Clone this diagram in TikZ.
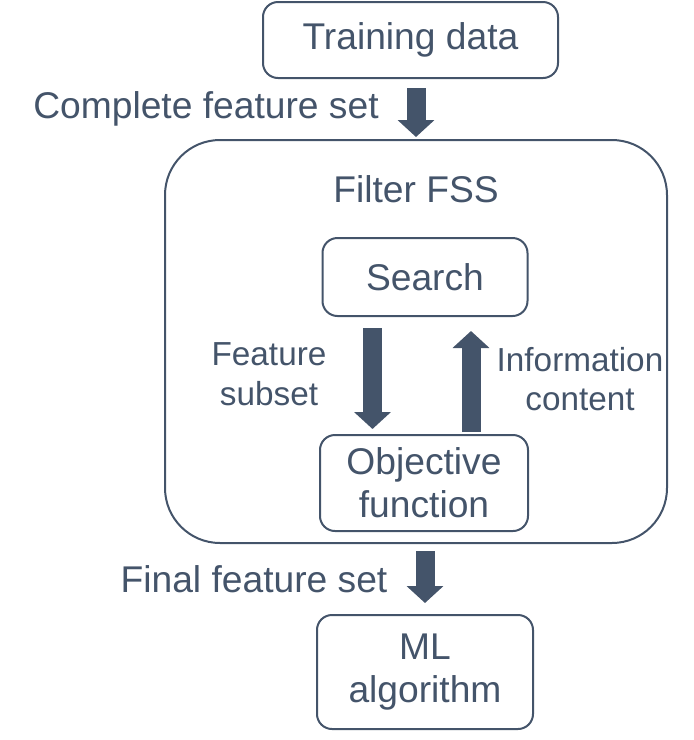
\documentclass[tikz,border=0pt]{standalone}
\usepackage{fontspec}
\setmainfont{Liberation Sans}
\usepackage{tikz}
\usetikzlibrary{arrows.meta}
\usetikzlibrary{positioning}
\definecolor{slate}{HTML}{44546A}
\tikzset{
  box/.style = {draw = slate, line width = 2pt, rounded corners = 15pt, inner sep = 0pt, align = center, text = slate},
  txt/.style = {text = slate, align = center, inner sep = 0pt},
  small/.style = {font = \fontsize{33.3}{39.5}\selectfont},
  fatarrow/.style = {draw = slate, line width = 19pt, -{Triangle[width = 36pt, length = 17pt]}}
}

\begin{document}
\begin{tikzpicture}[x = 1pt, y = -1pt, font = \fontsize{37.2}{43}\selectfont]
          \useasboundingbox (0,0) rectangle (694,740);
          \node[box, minimum width = 295pt, minimum height = 76pt] (train) at (410.5,40) {Training data};
          \node[box, rounded corners = 55pt, minimum width = 502pt, minimum height = 403pt] (fss) at (416,341.5) {};
          \node[txt] (fsslabel) at (416,189) {Filter FSS};
          \node[box, minimum width = 205pt, minimum height = 78pt] (search) at (425,277) {Search};
          \node[box, minimum width = 208pt, minimum height = 96pt] (obj) at (424,483) {Objective\\function};
          \node[box, minimum width = 216pt, minimum height = 114pt] (ml) at (425,672) {ML\\algorithm};
          \node[txt] (complete) at (206,109) {Complete feature set};
          \node[txt, small] (subset) at (269,374) {Feature\\subset};
          \node[txt, small] (info) at (580,379) {Information\\content};
          \node[txt] (final) at (254,579) {Final feature set};
          % flow between the boxes
          \draw[fatarrow, shorten <= 9pt, shorten >= 2pt] (train.south -| fss.north) -- (fss.north);
          \draw[fatarrow, shorten <= 11pt, shorten >= 5pt] ([xshift = -52.5pt]search.south) -- ([xshift = -52.5pt]search.south |- obj.north);
          \draw[fatarrow, shorten <= 2pt, shorten >= 14pt] ([xshift = 47pt]obj.north) -- ([xshift = 47pt]obj.north |- search.south);
          \draw[fatarrow, shorten <= 7pt, shorten >= 11pt] (fss.south -| ml.north) -- (ml.north);
        \end{tikzpicture}
\end{document}
